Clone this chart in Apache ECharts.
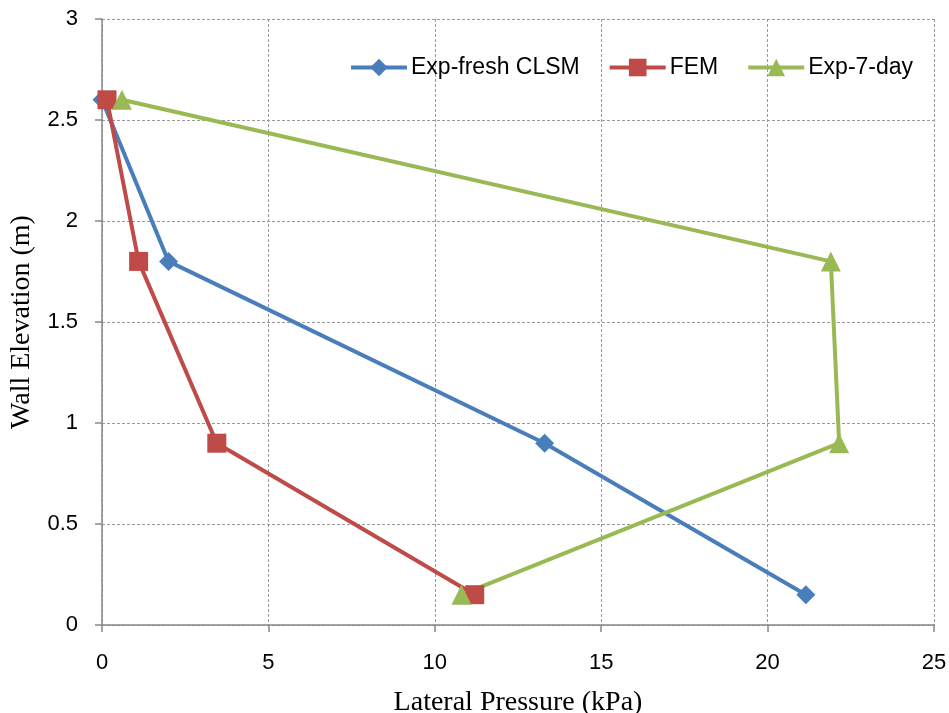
<!DOCTYPE html>
<html><head><meta charset="utf-8">
<script src="https://cdn.jsdelivr.net/npm/echarts@6/dist/echarts.min.js"></script>
<style>html,body{margin:0;padding:0;background:#fff}#c{width:949px;height:713px}</style>
</head><body><div id="c"></div>
<script>
const elevation = [2.6, 1.8, 0.9, 0.15];
const expFresh = [0, 2.0, 13.3, 21.15];
const fem = [0.15, 1.1, 3.45, 11.2];
const exp7 = [0.6, 21.9, 22.15, 10.8];
const xTicks = [0, 5, 10, 15, 20, 25];
const yTicks = [0, 0.5, 1, 1.5, 2, 2.5, 3];

const pair = (xs) => xs.map((x, i) => [x, elevation[i]]);
const chart = echarts.init(document.getElementById('c'));
const tickFont = {fontFamily: 'Liberation Sans', fontSize: 22, color: '#000'};
const axisGrey = '#888';
chart.setOption({
  animation: false,
  grid: {left: 102, right: 15, top: 19, bottom: 88, outerBoundsMode: 'none', containLabel: false},
  legend: {
    left: 344, top: 51, itemWidth: 56, itemHeight: 22, itemGap: 28,
    lineStyle: {width: 'inherit'},
    textStyle: {fontFamily: 'Liberation Sans', fontSize: 23, color: '#000', padding: [0,0,0,-1]},
    data: ['Exp-fresh CLSM', 'FEM', 'Exp-7-day']
  },
  xAxis: {
    type: 'value', min: xTicks[0], max: xTicks[xTicks.length-1], interval: 5,
    name: 'Lateral Pressure (kPa)', nameLocation: 'middle', nameGap: 64,
    nameTextStyle: {fontFamily: 'Liberation Serif', fontSize: 28, color: '#000'},
    axisLine: {onZero: false, lineStyle: {color: axisGrey, width: 1.5}},
    axisTick: {show: true, inside: false, length: 7, lineStyle: {color: axisGrey, width: 1.5}},
    axisLabel: Object.assign({margin: 27}, tickFont),
    splitLine: {show: true, lineStyle: {color: '#999', type: [3, 2], width: 1}}
  },
  yAxis: {
    type: 'value', min: yTicks[0], max: yTicks[yTicks.length-1], interval: 0.5,
    name: 'Wall Elevation (m)', nameLocation: 'middle', nameGap: 66, nameRotate: 90,
    nameTextStyle: {fontFamily: 'Liberation Serif', fontSize: 28, color: '#000'},
    axisLine: {onZero: false, lineStyle: {color: axisGrey, width: 1.5}},
    axisTick: {show: true, inside: false, length: 7, lineStyle: {color: axisGrey, width: 1.5}},
    axisLabel: Object.assign({margin: 24}, tickFont),
    splitLine: {show: true, lineStyle: {color: '#999', type: [3, 2], width: 1}}
  },
  series: [
    {name: 'Exp-fresh CLSM', type: 'line', data: pair(expFresh), symbol: 'diamond', symbolSize: 19,
     lineStyle: {color: '#4a7ebb', width: 4}, itemStyle: {color: '#4a7ebb'}},
    {name: 'FEM', type: 'line', data: pair(fem), symbol: 'rect', symbolSize: 19,
     lineStyle: {color: '#be4b48', width: 4}, itemStyle: {color: '#be4b48'}},
    {name: 'Exp-7-day', type: 'line', data: pair(exp7), symbol: 'triangle', symbolSize: 20,
     lineStyle: {color: '#98b954', width: 4}, itemStyle: {color: '#98b954'}}
  ]
});
</script></body></html>
